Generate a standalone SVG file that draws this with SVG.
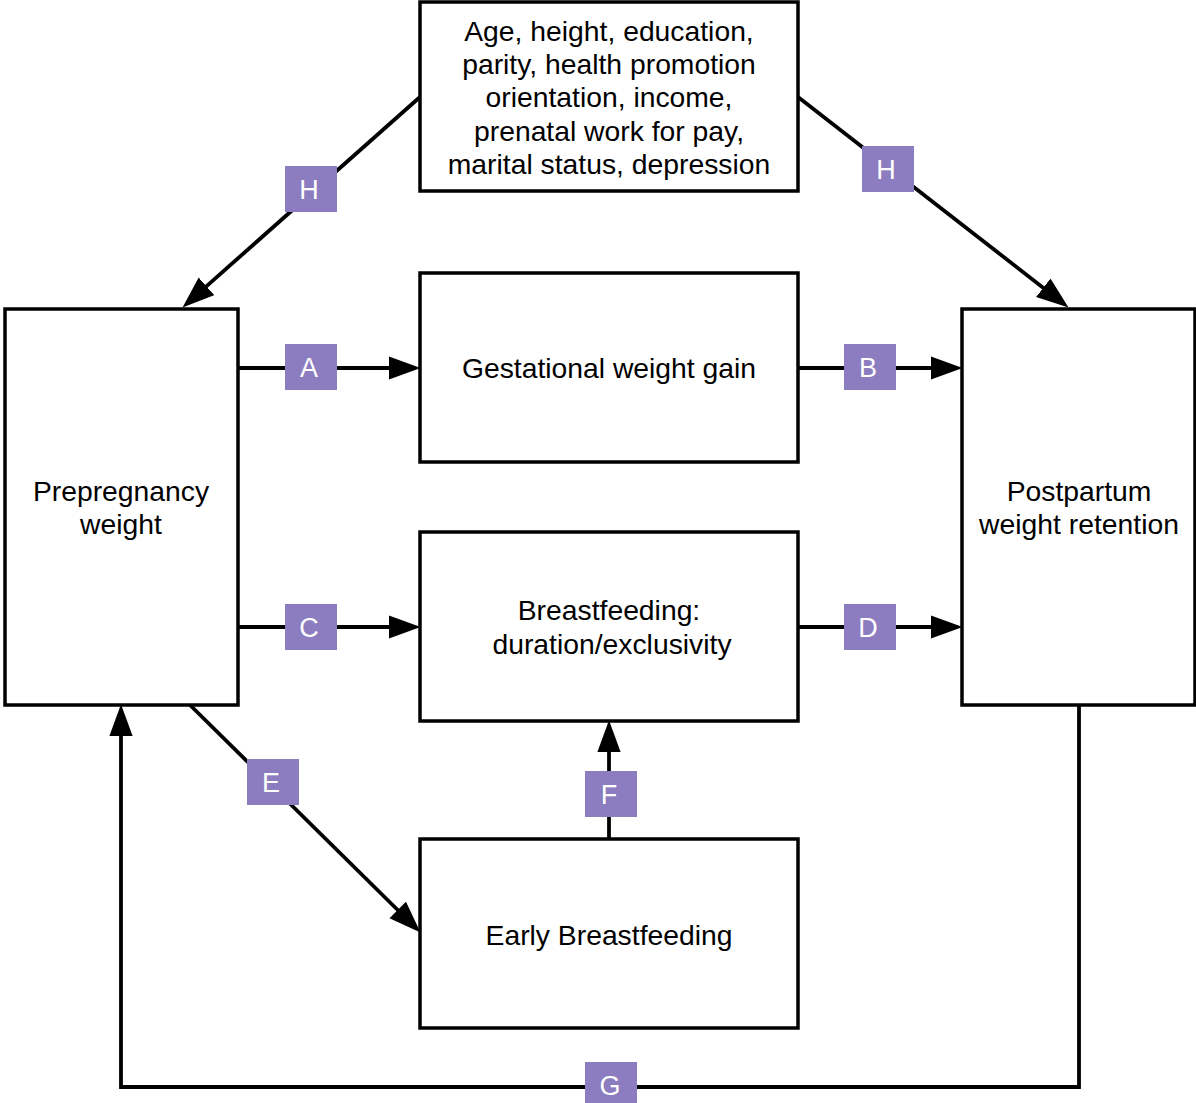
<svg xmlns="http://www.w3.org/2000/svg" width="1196" height="1103" viewBox="0 0 1196 1103">
<style>
.box{fill:#fff;stroke:#000;stroke-width:3.5}
.t{font-family:"Liberation Sans",Arial,sans-serif;font-size:28.3px;fill:#000;text-anchor:middle}
.lab rect{fill:#8C7CC0}
.lab text{font-family:"Liberation Sans",Arial,sans-serif;font-size:27px;fill:#fff;text-anchor:middle}
.c{fill:none;stroke:#000;stroke-width:3.8}
</style>
<defs>
<marker id="ah" markerUnits="userSpaceOnUse" markerWidth="32" markerHeight="24" viewBox="0 0 30 22" refX="20" refY="11" orient="auto">
<path d="M0,0 L30,11 L0,22 z" fill="#000"/>
</marker>
</defs>
<g id="connectors">
<line class="c" x1="420" y1="97" x2="190.5" y2="300.4" marker-end="url(#ah)"/>
<line class="c" x1="798" y1="97" x2="1060.1" y2="300.9" marker-end="url(#ah)"/>
<line class="c" x1="238" y1="368" x2="410" y2="368" marker-end="url(#ah)"/>
<line class="c" x1="798" y1="368" x2="952" y2="368" marker-end="url(#ah)"/>
<line class="c" x1="238" y1="627" x2="410" y2="627" marker-end="url(#ah)"/>
<line class="c" x1="798" y1="627" x2="952" y2="627" marker-end="url(#ah)"/>
<line class="c" x1="190" y1="705" x2="412.9" y2="925" marker-end="url(#ah)"/>
<line class="c" x1="609" y1="839" x2="609" y2="731" marker-end="url(#ah)"/>
<path class="c" d="M1079,705 V1087 H121 V715" stroke-linejoin="miter" marker-end="url(#ah)"/>
<g class="lab"><rect x="285" y="166" width="52" height="46"/><text x="309" y="199">H</text></g>
<g class="lab"><rect x="862" y="146" width="52" height="46"/><text x="886" y="179">H</text></g>
<g class="lab"><rect x="285" y="344" width="52" height="46"/><text x="309" y="377">A</text></g>
<g class="lab"><rect x="844" y="344" width="52" height="46"/><text x="868" y="377">B</text></g>
<g class="lab"><rect x="285" y="604" width="52" height="46"/><text x="309" y="637">C</text></g>
<g class="lab"><rect x="844" y="604" width="52" height="46"/><text x="868" y="637">D</text></g>
<g class="lab"><rect x="247" y="759" width="52" height="46"/><text x="271" y="792">E</text></g>
<g class="lab"><rect x="585" y="771" width="52" height="46"/><text x="609" y="804">F</text></g>
<g class="lab"><rect x="585" y="1062" width="52" height="46"/><text x="610" y="1095">G</text></g>
</g>
<g id="covariates">
<rect class="box" x="420" y="2" width="378" height="189"/>
<text class="t" x="609" y="41">Age, height, education,</text>
<text class="t" x="609" y="74">parity, health promotion</text>
<text class="t" x="609" y="107">orientation, income,</text>
<text class="t" x="609" y="141">prenatal work for pay,</text>
<text class="t" x="609" y="174">marital status, depression</text>
</g>
<g id="prepregnancy">
<rect class="box" x="5" y="309" width="233" height="396"/>
<text class="t" x="121" y="501">Prepregnancy</text>
<text class="t" x="121" y="534">weight</text>
</g>
<g id="gestational">
<rect class="box" x="420" y="273" width="378" height="189"/>
<text class="t" x="609" y="378">Gestational weight gain</text>
</g>
<g id="breastfeeding">
<rect class="box" x="420" y="532" width="378" height="189"/>
<text class="t" x="609" y="620">Breastfeeding:</text>
<text class="t" x="612" y="654">duration/exclusivity</text>
</g>
<g id="early">
<rect class="box" x="420" y="839" width="378" height="189"/>
<text class="t" x="609" y="945">Early Breastfeeding</text>
</g>
<g id="postpartum">
<rect class="box" x="962" y="309" width="233" height="396"/>
<text class="t" x="1079" y="501">Postpartum</text>
<text class="t" x="1079" y="534">weight retention</text>
</g>
</svg>
